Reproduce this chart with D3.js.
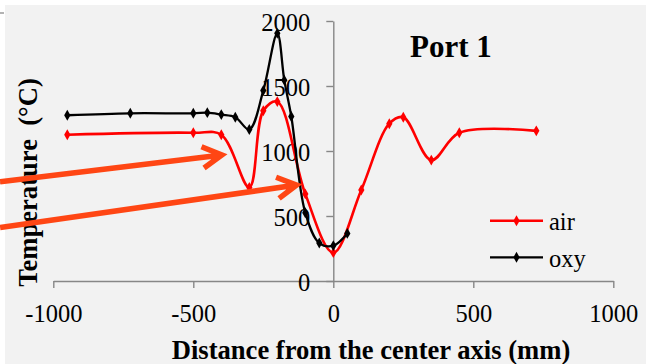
<!DOCTYPE html>
<html>
<head>
<meta charset="utf-8">
<script src="https://cdn.jsdelivr.net/npm/d3@7"></script>
<style>
  html, body { margin: 0; padding: 0; background: #ffffff; }
  svg { display: block; }
  text { font-family: "Liberation Serif", "Times New Roman", serif; fill: #000; }
</style>
</head>
<body>
<svg id="chart" width="646" height="364"></svg>
<script>
// Temperature profiles across the burner (Port 1)
const airDistance = [-950, -500, -400, -300, -250, -200, -100, 0, 100, 200, 250, 350, 450, 725];
const airTemp     = [1125, 1140, 1125, 720, 1310, 1380, 670, 218, 700, 1210, 1260, 930, 1140, 1155];

const oxyDistance = [-950, -725, -500, -450, -400, -350, -300, -250, -200, -175, -150, -100, -50, 0, 50];
const oxyTemp     = [1275, 1290, 1290, 1295, 1280, 1260, 1165, 1465, 1905, 1545, 1265, 525, 292, 272, 366];

const xTicks = [-1000, -500, 0, 500, 1000];
const yTicks = [0, 500, 1000, 1500, 2000];

const seriesNames = ["air", "oxy"];
const seriesColors = ["#ff0000", "#000000"];

// Annotation arrows, given in data units: [start, tip]
const arrowStarts = [[-1190, 764], [-1190, 412]];
const arrowTips   = [[-398, 969], [-131, 738]];

const svg = d3.select("#chart");
const W = 646, H = 364;

// chart area background
svg.append("rect").attr("x", 5).attr("y", 5).attr("width", W - 5).attr("height", H - 5).attr("fill", "#f2f2f2");
// leftover edge marks
svg.append("line").attr("x1", 0).attr("x2", 4).attr("y1", 13).attr("y2", 13).attr("stroke", "#9a9a9a").attr("stroke-width", 1.5);
svg.append("line").attr("x1", 0).attr("x2", 4).attr("y1", 183).attr("y2", 183).attr("stroke", "#9a9a9a").attr("stroke-width", 1.5);

const x = d3.scaleLinear().domain([-1000, 1000]).range([53.3, 613.3]);
const y = d3.scaleLinear().domain([0, 2000]).range([281, 21]);

const axisColor = "#878787";
const plain = d => String(d);

// x axis
const gx = svg.append("g").attr("transform", `translate(0,${y(0)})`)
  .call(d3.axisBottom(x).tickValues(xTicks).tickSize(7).tickSizeOuter(0).tickFormat(plain));
gx.selectAll("text").attr("y", 41).attr("dy", 0).style("font-size", "24.5px");

// y axis, crossing at x = 0
const gy = svg.append("g").attr("transform", `translate(${x(0)},0)`)
  .call(d3.axisLeft(y).tickValues(yTicks).tickSize(7).tickSizeOuter(0).tickPadding(16).tickFormat(plain));
gy.selectAll("text").attr("dy", 9.5).style("font-size", "24.5px");

[gx, gy].forEach(g => {
  g.select(".domain").attr("stroke", axisColor).attr("stroke-width", 1.4);
  g.selectAll(".tick line").attr("stroke", axisColor).attr("stroke-width", 1.4);
  g.attr("font-family", null).attr("font-size", null);
});

// series
const line = d3.line().x(d => x(d[0])).y(d => y(d[1])).curve(d3.curveCatmullRom.alpha(0.5));
const diamond = d3.symbol().type(d3.symbolDiamond).size(34);

const series = [
  { name: seriesNames[0], color: seriesColors[0], pts: d3.zip(airDistance, airTemp), w: 2.6 },
  { name: seriesNames[1], color: seriesColors[1], pts: d3.zip(oxyDistance, oxyTemp), w: 2.3 }
];

series.forEach(s => {
  svg.append("path").datum(s.pts).attr("d", line)
    .attr("fill", "none").attr("stroke", s.color).attr("stroke-width", s.w);
  svg.append("g").selectAll("path").data(s.pts).join("path")
    .attr("d", diamond)
    .attr("transform", d => `translate(${x(d[0])},${y(d[1])})`)
    .attr("fill", s.color);
});

// legend
const legend = svg.append("g");
series.forEach((s, i) => {
  const ly = 220.7 + i * 36.6;
  legend.append("line").attr("x1", 490).attr("x2", 543).attr("y1", ly).attr("y2", ly)
    .attr("stroke", s.color).attr("stroke-width", s.w);
  legend.append("path").attr("d", diamond).attr("transform", `translate(516.5,${ly})`).attr("fill", s.color);
  legend.append("text").attr("x", 549).attr("y", ly + 9.5).style("font-size", "24.5px").text(s.name);
});

// titles
svg.append("text").attr("x", 410).attr("y", 56.5)
  .style("font-size", "31px").style("font-weight", "bold").text("Port 1");

svg.append("text").attr("x", 371).attr("y", 359).attr("text-anchor", "middle")
  .style("font-size", "26.6px").style("font-weight", "bold").text("Distance from the center axis (mm)");

svg.append("text").attr("transform", "translate(36.5,182.5) rotate(-90)").attr("text-anchor", "middle")
  .style("font-size", "26.6px").style("font-weight", "bold").attr("xml:space", "preserve")
  .text("Temperature  (°C)");

// arrows pointing at the dips
const arrowColor = "#ff4614";
arrowStarts.forEach((st, i) => {
  const x0 = x(st[0]), y0 = y(st[1]);
  const x1 = x(arrowTips[i][0]), y1 = y(arrowTips[i][1]);
  const ang = Math.atan2(y1 - y0, x1 - x0);
  const len = 22, spread = Math.PI / 6.2;
  const wa = [ang + Math.PI - spread, ang + Math.PI + spread].map(a => [x1 + len * Math.cos(a), y1 + len * Math.sin(a)]);
  const p = d3.path();
  p.moveTo(x0, y0); p.lineTo(x1, y1);
  p.moveTo(wa[0][0], wa[0][1]); p.lineTo(x1, y1); p.lineTo(wa[1][0], wa[1][1]);
  svg.append("path").attr("d", p.toString()).attr("fill", "none")
    .attr("stroke", arrowColor).attr("stroke-width", 5.5)
    .attr("stroke-linejoin", "miter").attr("stroke-linecap", "butt");
});
</script>
</body>
</html>
